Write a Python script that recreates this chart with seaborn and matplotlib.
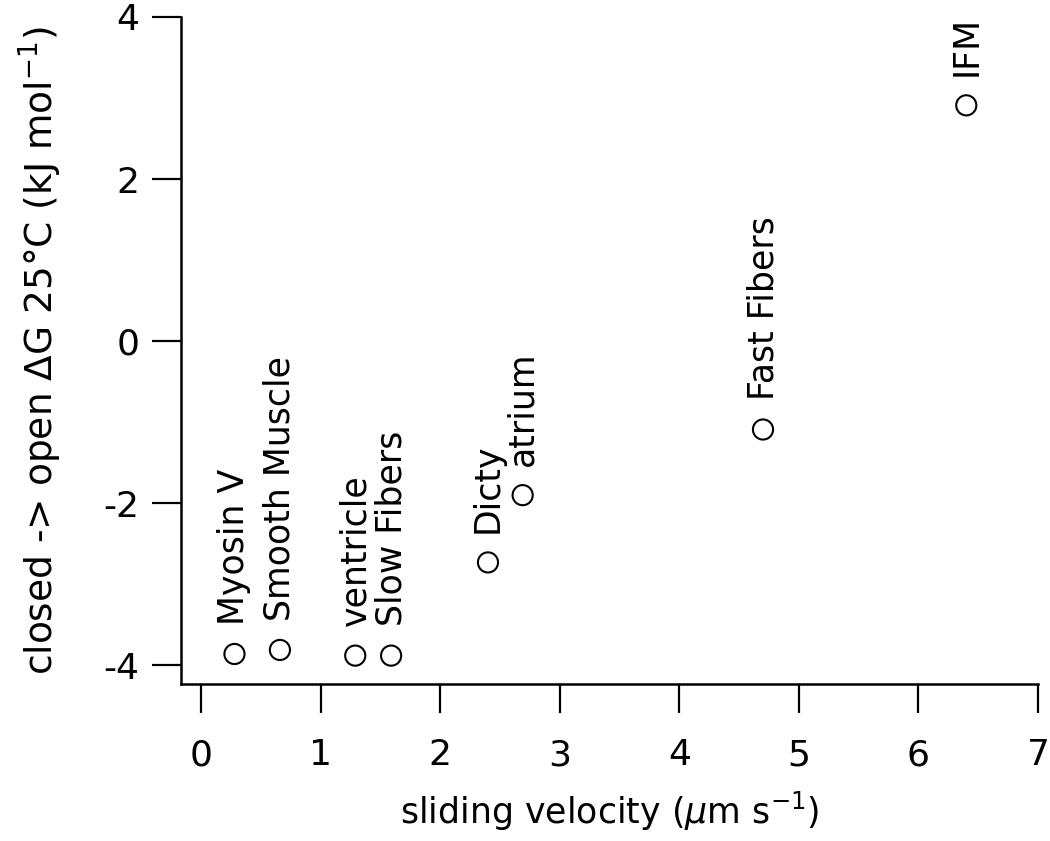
import matplotlib
matplotlib.use("Agg")
import matplotlib.pyplot as plt
import pandas as pd
import seaborn as sns

names = ["Myosin V", "Smooth Muscle", "ventricle", "Slow Fibers",
         "Dicty", "atrium", "Fast Fibers", "IFM"]
velocity = [0.28, 0.66, 1.29, 1.59, 2.40, 2.69, 4.70, 6.40]
dG = [-3.86, -3.81, -3.88, -3.88, -2.73, -1.90, -1.09, 2.91]

df = pd.DataFrame({"name": names, "v": velocity, "dG": dG})

sns.set_style("ticks")
plt.rcParams['font.family'] = ['DejaVu Sans']
plt.rcParams['axes.unicode_minus'] = False
plt.rcParams['text.color'] = 'black'
plt.rcParams['axes.labelcolor'] = 'black'

fig = plt.figure(figsize=(10.5, 8.41), dpi=100)
ax = fig.add_axes([0.1724, 0.1867, 0.8162, 0.7931])

sns.scatterplot(data=df, x="v", y="dG", ax=ax, s=210, marker="o",
                facecolor="none", edgecolor="black", linewidth=1.5)

# rotated labels sitting just above each point
for n, x, y in zip(names, velocity, dG):
    ax.annotate(n, (x, y), xytext=(0, 21), textcoords="offset points",
                rotation=90, ha="center", va="bottom", fontsize=25, color="black")

ax.set_xlim(-0.167, 7)
ax.set_ylim(-4.23, 4)
ax.set_xticks(range(0, 8))
ax.set_yticks([-4, -2, 0, 2, 4])
ax.spines["top"].set_visible(False)
ax.spines["right"].set_visible(False)
for s in ["left", "bottom"]:
    ax.spines[s].set_linewidth(1.8)
    ax.spines[s].set_color("black")
ax.tick_params(axis="both", direction="out", length=21, width=1.6,
               labelsize=26, colors="black")
ax.tick_params(axis="y", pad=9)
ax.tick_params(axis="x", pad=18)

ax.set_xlabel(r"sliding velocity ($\mu$m s$^{-1}$)", fontsize=25, labelpad=13)
ax.set_ylabel(r"closed -> open $\Delta$G 25°C (kJ mol$^{-1}$)", fontsize=27, labelpad=28)

fig.savefig("out.png", dpi=100)
